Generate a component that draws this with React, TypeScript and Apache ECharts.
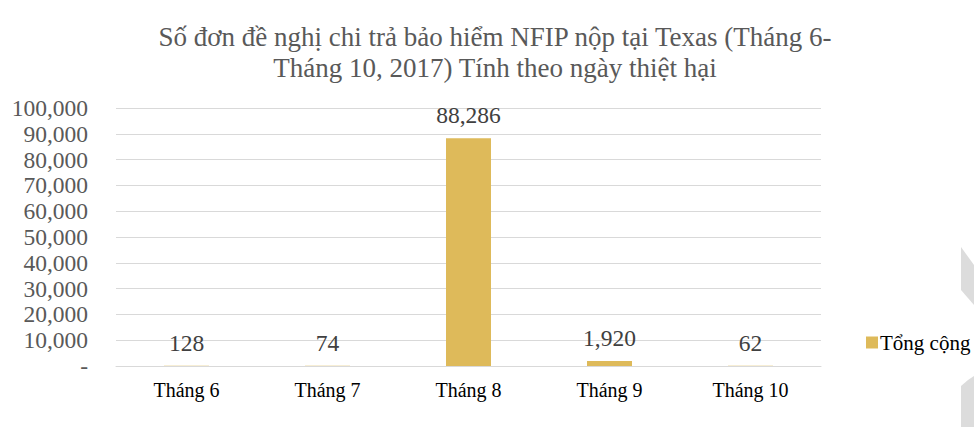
import React, { useEffect, useRef } from "react";
import * as echarts from "echarts";

const categories = ["Tháng 6", "Tháng 7", "Tháng 8", "Tháng 9", "Tháng 10"];
const values = [128, 74, 88286, 1920, 62];
const seriesName = "Tổng cộng";
const titleText = "Số đơn đề nghị chi trả bảo hiểm NFIP nộp tại Texas (Tháng 6-\nTháng 10, 2017) Tính theo ngày thiệt hại";

const FONT = "'Liberation Serif', 'Times New Roman', serif";

export default function App() {
  const ref = useRef<HTMLDivElement>(null);
  useEffect(() => {
    if (!ref.current) return;
    const chart = echarts.init(ref.current, undefined, { renderer: "svg" });
    chart.setOption({
      animation: false,
      backgroundColor: "#ffffff",
      textStyle: { fontFamily: FONT },
      title: {
        text: titleText,
        left: 490,
        textAlign: "center",
        top: 16,
        textStyle: {
          fontFamily: FONT,
          fontSize: 27,
          fontWeight: "normal",
          color: "#595959",
          lineHeight: 31,
        },
      },
      legend: {
        data: [seriesName],
        left: 861,
        top: 327,
        icon: "rect",
        itemWidth: 12,
        itemHeight: 12,
        itemGap: 0,
        textStyle: { fontFamily: FONT, fontSize: 21, color: "#000000", padding: [0, 0, 0, -3] },
      },
      grid: { left: 116, right: 153, top: 108, bottom: 61, containLabel: false },
      xAxis: {
        type: "category",
        data: categories,
        axisLine: { show: true, lineStyle: { color: "#d9d9d9", width: 1 } },
        axisTick: { show: false },
        axisLabel: {
          fontFamily: FONT,
          fontSize: 20,
          color: "#000000",
          margin: 14,
        },
      },
      yAxis: {
        type: "value",
        min: 0,
        max: 100000,
        interval: 10000,
        axisLine: { show: false },
        axisTick: { show: false },
        splitLine: { lineStyle: { color: "#d9d9d9", width: 1 } },
        axisLabel: {
          fontFamily: FONT,
          fontSize: 23.5,
          color: "#595959",
          margin: 28,
          formatter: (v: number) => (v === 0 ? "-" : v.toLocaleString("en-US")),
        },
      },
      series: [
        {
          name: seriesName,
          type: "bar",
          data: values,
          barWidth: 45,
          itemStyle: { color: "#DEBA5A" },
          label: {
            show: true,
            position: "top",
            distance: 11,
            fontFamily: FONT,
            fontSize: 23.5,
            color: "#404040",
            formatter: (p: any) => Number(p.value).toLocaleString("en-US"),
          },
        },
      ],
      graphic: [
        {
          type: "polygon",
          shape: { points: [[961, 247], [974, 265], [974, 305], [961, 290]] },
          style: { fill: "#dcdcdc" },
          silent: true,
        },
        {
          type: "polygon",
          shape: { points: [[961, 386], [968, 380], [974, 376], [974, 427], [961, 427]] },
          style: { fill: "#dcdcdc" },
          silent: true,
        },
      ],
    });
    return () => chart.dispose();
  }, []);
  return <div ref={ref} style={{ width: 974, height: 427, position: "absolute", left: 0, top: 0 }} />;
}
